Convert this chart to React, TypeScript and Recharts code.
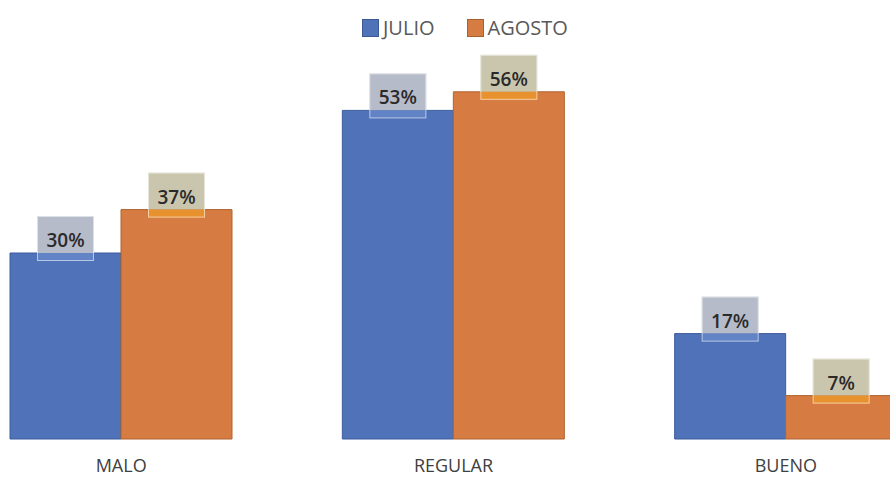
import { BarChart, Bar, XAxis, YAxis, LabelList } from "recharts";

// categories and values (percent)
const categories = ["MALO", "REGULAR", "BUENO"];
const julio = [30, 53, 17];
const agosto = [37, 56, 7];

const chartData = categories.map((name, i) => ({
  name,
  julio: julio[i],
  agosto: agosto[i],
}));

const BLUE = "#4f72b8";
const ORANGE = "#d67b42";

const makeLabel = (boxFill: string, overlapFill: string) => (props: any) => {
  const { x, y, width, value } = props;
  const cx = x + width / 2;
  const bw = 57;
  return (
    <g>
      <rect x={cx - bw / 2} y={y - 37} width={bw} height={37} fill={boxFill} />
      <rect x={cx - bw / 2} y={y} width={bw} height={8} fill={overlapFill} />
      <rect
        x={cx - bw / 2 + 0.5}
        y={y - 36.5}
        width={bw - 1}
        height={44}
        fill="none"
        stroke="rgba(255,255,255,0.55)"
        strokeWidth={1}
      />
      <text
        x={cx}
        y={y - 6}
        textAnchor="middle"
        fontFamily="'Open Sans', sans-serif"
        fontSize={19}
        fontWeight={600}
        fill="#2a2a2a"
      >
        {`${value}%`}
      </text>
    </g>
  );
};

const LegendItem = ({ color, border, label }: any) => (
  <div style={{ display: "flex", alignItems: "center", marginRight: 32 }}>
    <div
      style={{
        width: 15,
        height: 16,
        background: color,
        border: `1px solid ${border}`,
        marginRight: 4,
      }}
    />
    <span style={{ fontSize: 20, color: "#595959" }}>{label}</span>
  </div>
);

export default function App() {
  return (
    <div
      style={{
        position: "fixed",
        left: 0,
        top: 0,
        width: 890,
        height: 477,
        overflow: "hidden",
        background: "#fff",
        fontFamily: "'Open Sans', sans-serif",
      }}
    >
      <div
        style={{
          position: "absolute",
          left: 362,
          top: 14,
          display: "flex",
          alignItems: "center",
        }}
      >
        <LegendItem color={BLUE} border="#3b5a96" label="JULIO" />
        <LegendItem color={ORANGE} border="#a95f30" label="AGOSTO" />
      </div>
      <div style={{ position: "absolute", left: -45, top: 0 }}>
        <BarChart
          width={997}
          height={477}
          data={chartData}
          margin={{ top: 67, right: 0, left: 0, bottom: 0 }}
          barCategoryGap={55}
          barGap={0}
        >
          <XAxis
            dataKey="name"
            axisLine={false}
            tickLine={false}
            tickSize={0}
            tickMargin={20}
            height={38}
            tick={{ fontSize: 18, fill: "#404040", fontFamily: "'Open Sans', sans-serif" }}
            interval={0}
          />
          <YAxis hide domain={[0, 60]} />
          <Bar dataKey="julio" fill={BLUE} stroke="#3d5c9c" strokeWidth={1} isAnimationActive={false}>
            <LabelList dataKey="julio" content={makeLabel("#b6bbca", "#6283c6")} />
          </Bar>
          <Bar dataKey="agosto" fill={ORANGE} stroke="#b0642f" strokeWidth={1} isAnimationActive={false}>
            <LabelList dataKey="agosto" content={makeLabel("#cac6ae", "#e8922f")} />
          </Bar>
        </BarChart>
      </div>
    </div>
  );
}
